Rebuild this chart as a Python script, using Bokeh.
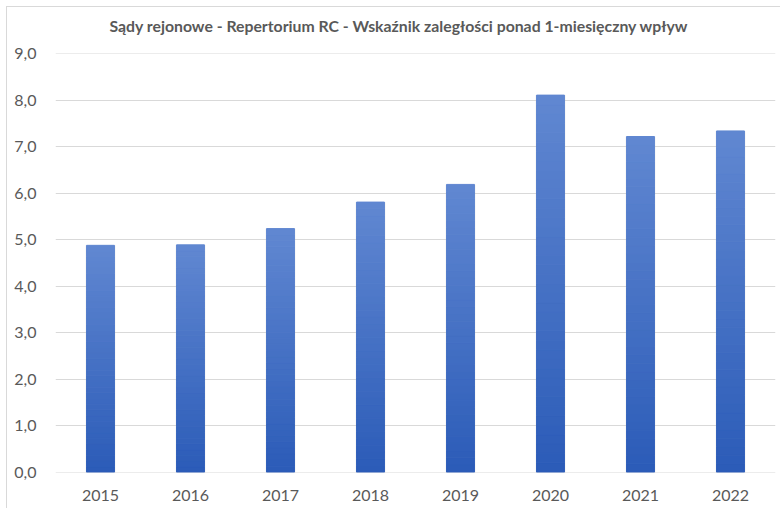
import numpy as np
from bokeh.plotting import figure
from bokeh.models import Range1d, FixedTicker, Title
from bokeh.embed import file_html
from bokeh.resources import INLINE

# ---- data ----
title_text = "Sądy rejonowe - Repertorium RC - Wskaźnik zaległości ponad 1-miesięczny wpływ"
years = ["2015", "2016", "2017", "2018", "2019", "2020", "2021", "2022"]
values = [4.88, 4.89, 5.24, 5.81, 6.19, 8.11, 7.22, 7.34]
y_ticks = [0, 1, 2, 3, 4, 5, 6, 7, 8, 9]
y_tick_labels = ["0,0", "1,0", "2,0", "3,0", "4,0", "5,0", "6,0", "7,0", "8,0", "9,0"]

# ---- gradient bars (each bar split into slices, light at top, dark at bottom) ----
N = 40
top_rgb = (0x60, 0x87, 0xd1)
bot_rgb = (0x2c, 0x5c, 0xb8)
xs, bottoms, tops, colors = [], [], [], []
for i, v in enumerate(values):
    for k in range(N):
        f = k / (N - 1)
        xs.append(i)
        bottoms.append(v * k / N)
        tops.append(v * (k + 1) / N)
        c = tuple(round(b + (t - b) * f) for t, b in zip(top_rgb, bot_rgb))
        colors.append("#%02x%02x%02x" % c)

FONT = "Lato"
GREY = "#595959"

p = figure(width=774, height=502,
           x_range=Range1d(-0.5, -0.5 + 720 / 90),
           y_range=Range1d(-0.005, 9.005),
           output_backend="svg", toolbar_location=None,
           min_border_left=48, min_border_right=6,
           min_border_top=46, min_border_bottom=37,
           title=None)

p.styles = {"margin-left": "6px", "margin-top": "6px",
            "border-left": "1px solid #d9d9d9", "border-top": "1px solid #d9d9d9"}
p.outline_line_color = None
p.background_fill_color = "white"
p.border_fill_color = "white"

# grid
p.xgrid.grid_line_color = None
p.ygrid.ticker = FixedTicker(ticks=y_ticks)
p.ygrid.grid_line_color = "#d9d9d9"
p.ygrid.grid_line_width = 1

# bars
x_idx = list(range(len(years)))
p.vbar(x=x_idx, width=0.33, bottom=0, top=values, fill_color="#c9c9c9",
       fill_alpha=0.35, line_color=None)
p.vbar(x=xs, width=0.31, bottom=bottoms, top=tops, fill_color=colors,
       line_color=colors, line_width=1)

# axes
p.yaxis.ticker = FixedTicker(ticks=y_ticks)
p.yaxis.major_label_overrides = {t: l for t, l in zip(y_ticks, y_tick_labels)}
p.xaxis.ticker = FixedTicker(ticks=x_idx)
p.xaxis.major_label_overrides = {i: y for i, y in zip(x_idx, years)}
for ax in (p.xaxis, p.yaxis):
    ax.axis_line_color = None
    ax.major_tick_line_color = None
    ax.minor_tick_line_color = None
    ax.major_label_text_color = GREY
    ax.major_label_text_font = FONT
    ax.major_label_text_font_size = "16px"
p.yaxis.major_label_standoff = 13
p.xaxis.major_label_standoff = 11

# spacer between title and plot area, then the title itself
spacer = Title(text=" ", text_font_size="6px", standoff=9, text_color="white")
p.add_layout(spacer, "above")
title = Title(text=title_text, text_font=FONT, text_font_style="bold",
              text_font_size="15.8px", text_color=GREY, align="left",
              offset=54, standoff=4)
p.add_layout(title, "above")

open("out.html", "w").write(file_html(p, INLINE))
